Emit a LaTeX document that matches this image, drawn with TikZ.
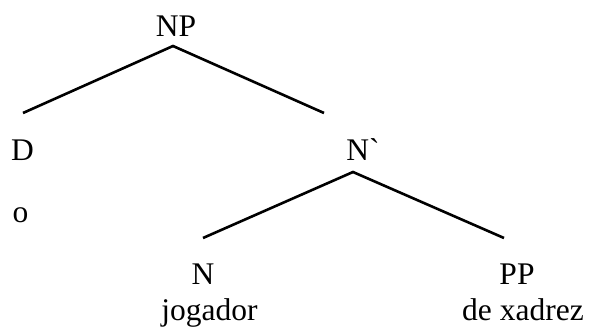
\documentclass[tikz,border=0pt]{standalone}
\usepackage{fontspec}
\setmainfont{Liberation Serif}[Ligatures=TeXOff]
\begin{document}
\begin{tikzpicture}[x=1pt,y=-1pt,
  lbl/.style={anchor=base,inner sep=0pt,font=\fontsize{31.5}{36}\selectfont},
  branch/.style={line width=2.6pt}]
\useasboundingbox (0,0) rectangle (589,327);
% category labels and words
\node[lbl] (np) at (176,36) {NP};
\node[lbl] (d) at (22.5,160) {D};
\node[lbl] (o) at (20.5,222) {o};
\node[lbl] (nbar) at (363,160) {N\symbol{96}};
\node[lbl] (n) at (203,284) {N};
\node[lbl] (jogador) at (209.5,320) {jogador};
\node[lbl] (pp) at (517,284) {PP};
\node[lbl] (dexadrez) at (523,320) {de xadrez};
% branch end points
\coordinate (npfork) at (173,46);
\coordinate (dtip) at (23,113);
\coordinate (nbartip) at (324,113);
\coordinate (nbarfork) at (353,172);
\coordinate (ntip) at (203,238);
\coordinate (pptip) at (504,238);
% branches
\draw[branch] (dtip) -- (npfork) -- (nbartip);
\draw[branch] (ntip) -- (nbarfork) -- (pptip);
\end{tikzpicture}
\end{document}
